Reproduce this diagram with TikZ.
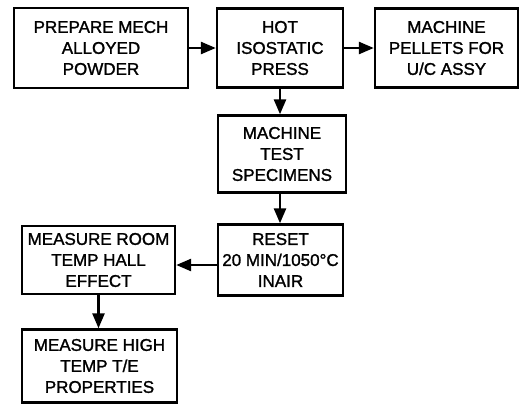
\documentclass[tikz,border=0pt]{standalone}
\usepackage{fontspec}
\setmainfont{Liberation Sans}[FakeBold=1.4]
\usepackage{tikz}
\usetikzlibrary{arrows.meta,positioning}

\begin{document}
\begin{tikzpicture}[
    x=1pt, y=1pt,
    node distance=106pt,
    block/.style={rectangle, draw, line width=2.4pt, align=center, inner sep=0pt,
        font=\fontsize{17}{21}\selectfont},
    arrow/.style={line width=2.6pt, -{Triangle[length=15pt,width=12pt]}}
]
\useasboundingbox (0,0) rectangle (519,-405);

% Nodes
\node (prep) [block, minimum width=174pt, minimum height=80pt] at (101,-48) {PREPARE MECH\\ALLOYED\\POWDER};
\node (hip) [block, right of=prep, xshift=73pt, minimum width=126pt, minimum height=79pt] {HOT\\ISOSTATIC\\PRESS};
\node (pellets) [block, right of=hip, xshift=60.5pt, minimum width=143pt, minimum height=79pt] {MACHINE\\PELLETS FOR\\U/C ASSY};
\node (test) [block, below of=hip, xshift=2pt, minimum width=128pt, minimum height=77pt] {MACHINE\\TEST\\SPECIMENS};
\node (reset) [block, below of=test, xshift=-1.5pt, minimum width=125pt, minimum height=71pt] {RESET\\20 MIN/1050°C\\INAIR};
\node (room) [block, left of=reset, xshift=-76pt, minimum width=153pt, minimum height=68pt] {MEASURE ROOM\\TEMP HALL\\EFFECT};
\node (high) [block, below of=room, xshift=1pt, minimum width=155pt, minimum height=73pt] {MEASURE HIGH\\TEMP T/E\\PROPERTIES};

% Arrows
\draw [arrow] (prep) -- (hip);
\draw [arrow] (hip) -- (pellets);
\draw [arrow] (hip.south) -- (hip.south |- test.north);
\draw [arrow] (test.south -| hip) -- (hip |- reset.north);
\draw [arrow, transform canvas={yshift=-5pt}] (reset) -- (room);
\draw [arrow] (room.south) -- (room.south |- high.north);

\end{tikzpicture}
\end{document}
